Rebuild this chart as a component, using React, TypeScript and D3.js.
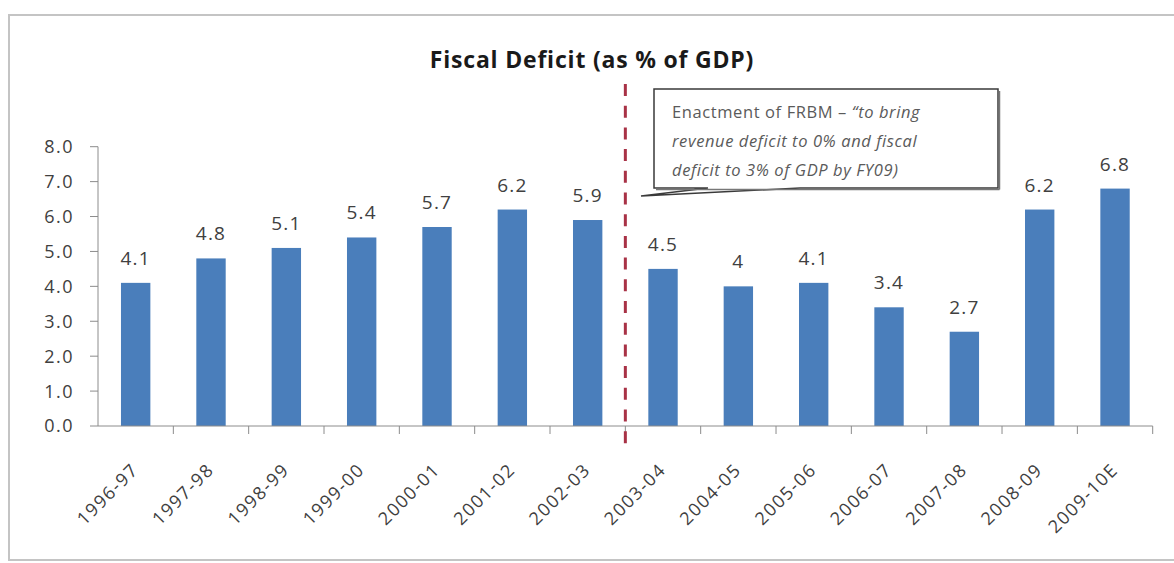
import React from "react";
import * as d3 from "d3";

const categories = [
  "1996-97", "1997-98", "1998-99", "1999-00", "2000-01", "2001-02", "2002-03",
  "2003-04", "2004-05", "2005-06", "2006-07", "2007-08", "2008-09", "2009-10E",
];
const deficitValues = [4.1, 4.8, 5.1, 5.4, 5.7, 6.2, 5.9, 4.5, 4, 4.1, 3.4, 2.7, 6.2, 6.8];
const valueLabels = ["4.1", "4.8", "5.1", "5.4", "5.7", "6.2", "5.9", "4.5", "4", "4.1", "3.4", "2.7", "6.2", "6.8"];
const yTicks = [0, 1, 2, 3, 4, 5, 6, 7, 8];
const titleText = "Fiscal Deficit (as % of GDP)";
const markerCategory = "2003-04";
const noteLines = [
  [{ t: "Enactment of FRBM – ", i: false }, { t: "“to bring", i: true }],
  [{ t: "revenue deficit to 0% and fiscal", i: true }],
  [{ t: "deficit to 3% of GDP by FY09)", i: true }],
];

const W = 1174;
const H = 563;
const plot = { left: 98, right: 1152.7, top: 146.7, bottom: 426 };
const font = "'Open Sans', 'Liberation Sans', sans-serif";
const textColor = "#404040";

export default function App() {
  const xCat = d3.scaleBand<string>().domain(categories).range([plot.left, plot.right]).padding(0);
  const xBar = d3
    .scaleBand<string>()
    .domain(categories)
    .range([plot.left, plot.right])
    .paddingInner(0.61)
    .paddingOuter(0.305);
  const y = d3.scaleLinear().domain([0, 8]).range([plot.bottom, plot.top]);
  const fmt = d3.format(".1f");
  const step = xCat.step();
  const markerX = xCat(markerCategory)!;

  const boxX = 654, boxY = 89, boxW = 344, boxH = 99;
  const tip = [641, 196];

  return (
    <svg width={W} height={H} style={{ position: "absolute", left: 0, top: 0 }} fontFamily={font}>
      <rect x={0} y={0} width={W} height={H} fill="#fff" />
      <rect x={9} y={15} width={W} height={545} fill="none" stroke="#c4c4c4" strokeWidth={2} />

      <text x={592} y={68} textAnchor="middle" fontWeight="bold" fontSize={23} letterSpacing={0.8} fill="#1a1a1a">
        {titleText}
      </text>

      {/* y axis */}
      <line x1={plot.left} x2={plot.left} y1={y(8)} y2={y(0)} stroke="#8c8c8c" strokeWidth={1} />
      {yTicks.map((t) => (
        <g key={t}>
          <line x1={plot.left - 8} x2={plot.left} y1={y(t)} y2={y(t)} stroke="#8c8c8c" />
          <text
            x={74}
            y={y(t)}
            dy="0.36em"
            textAnchor="end"
            fontSize={18}
            letterSpacing={1.5}
            fill={textColor}
          >
            {fmt(t)}
          </text>
        </g>
      ))}

      {/* bars */}
      {categories.map((c, i) => (
        <rect
          key={c}
          x={xBar(c)}
          y={y(deficitValues[i])}
          width={xBar.bandwidth()}
          height={y(0) - y(deficitValues[i])}
          fill="#4a7ebb"
        />
      ))}

      {/* value labels */}
      {categories.map((c, i) => (
        <text
          key={c}
          x={xBar(c)! + xBar.bandwidth() / 2}
          y={y(deficitValues[i]) - 18}
          textAnchor="middle"
          fontSize={19}
          letterSpacing={1.2}
          fill={textColor}
        >
          {valueLabels[i]}
        </text>
      ))}

      {/* x axis */}
      <line x1={plot.left} x2={plot.right} y1={y(0)} y2={y(0)} stroke="#8c8c8c" />
      {categories.map((c) => (
        <line key={c} x1={xCat(c)! + step} x2={xCat(c)! + step} y1={y(0)} y2={y(0) + 8} stroke="#8c8c8c" />
      ))}
      {categories.map((c) => {
        const cx = xCat(c)! + step / 2 + 4;
        const cy = 471;
        return (
          <text
            key={c}
            x={cx}
            y={cy}
            textAnchor="end"
            fontSize={18}
            letterSpacing={1.5}
            fill={textColor}
            transform={`rotate(-45 ${cx} ${cy})`}
          >
            {c}
          </text>
        );
      })}

      {/* FRBM marker */}
      <line
        x1={markerX}
        x2={markerX}
        y1={84}
        y2={448}
        stroke="#a83246"
        strokeWidth={3}
        strokeDasharray="12 9.7"
      />

      {/* callout */}
      <path
        d={`M${boxX},${boxY} H${boxX + boxW} V${boxY + boxH} H800 L${tip[0]},${tip[1]} L708,${boxY + boxH} H${boxX} Z`}
        fill="#fff"
        stroke="#3a3a3a"
        strokeWidth={1.5}
      />
      <line x1={boxX + boxW + 1.5} x2={boxX + boxW + 1.5} y1={boxY + 2} y2={boxY + boxH + 1.5} stroke="#777" strokeWidth={1.5} />
      <line x1={boxX + 2} x2={boxX + boxW + 1.5} y1={boxY + boxH + 1.5} y2={boxY + boxH + 1.5} stroke="#777" strokeWidth={1.5} />
      {noteLines.map((line, li) => (
        <text key={li} x={672} y={118 + li * 29} fontSize={16.5} fill="#5a5a5a" letterSpacing={0.6}>
          {line.map((seg, si) => (
            <tspan key={si} fontStyle={seg.i ? "italic" : "normal"}>
              {seg.t}
            </tspan>
          ))}
        </text>
      ))}
    </svg>
  );
}
